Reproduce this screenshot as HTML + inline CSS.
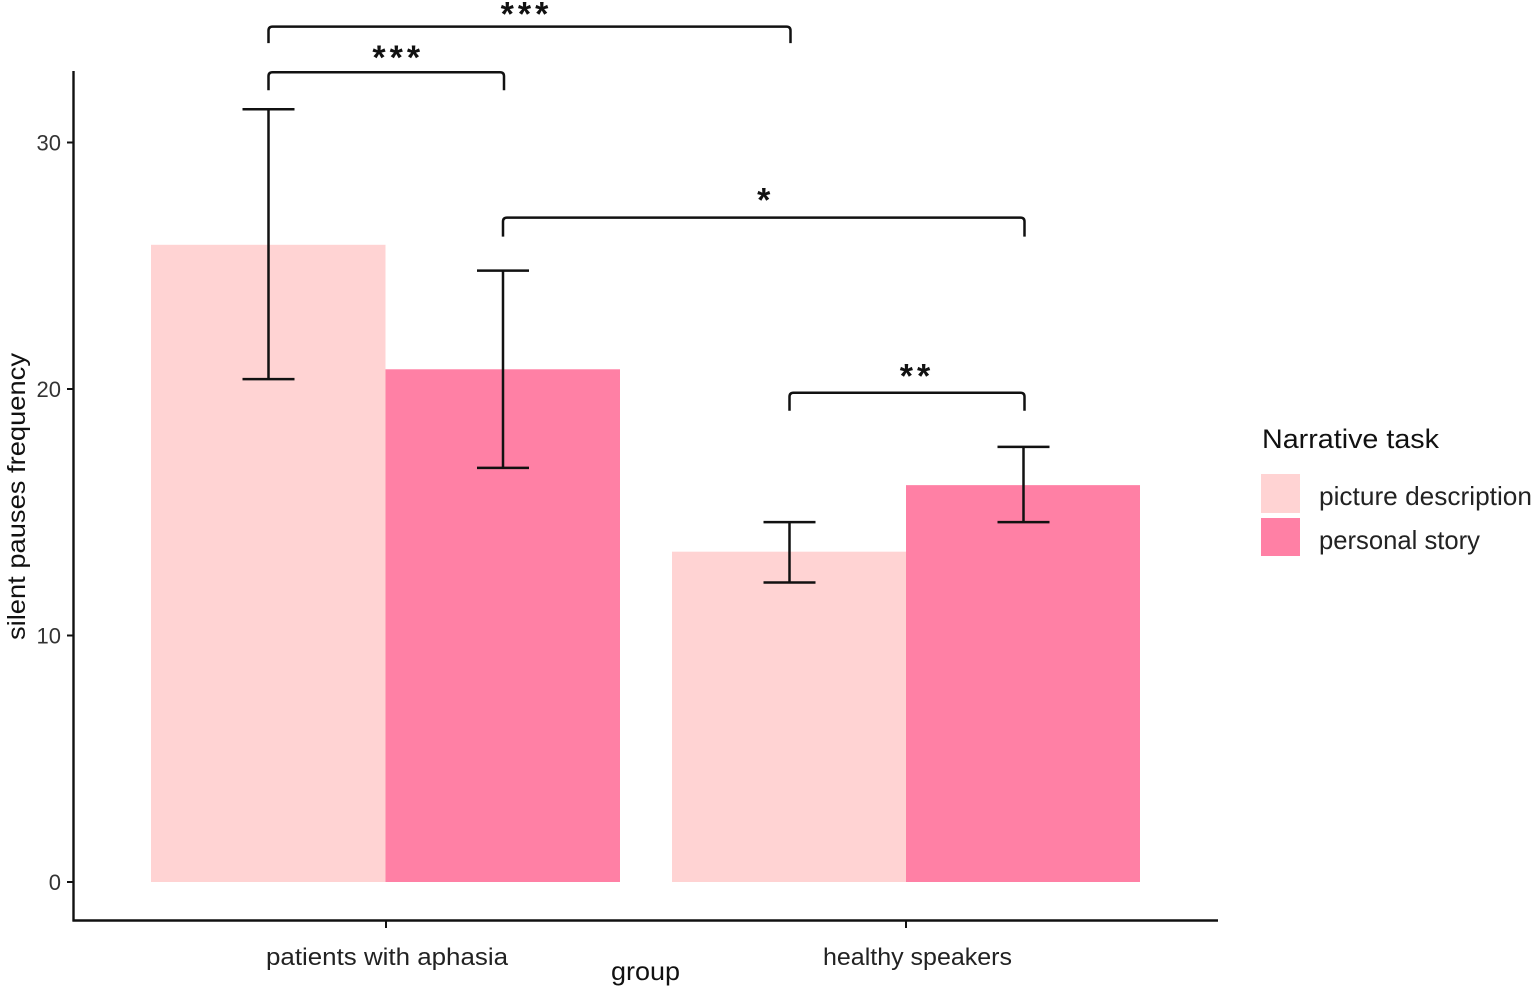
<!DOCTYPE html>
<html lang="en">
<head>
<meta charset="utf-8">
<title>Silent pauses frequency</title>
<style>
html,body{margin:0;padding:0;background:#fff;width:1535px;height:989px;overflow:hidden}
svg{display:block;font-family:"Liberation Sans",sans-serif}
</style>
</head>
<body>
<svg id="chart" width="1535" height="989" viewBox="0 0 1535 989" xmlns="http://www.w3.org/2000/svg"></svg>
<script>
const groups = ['patients with aphasia', 'healthy speakers'];
const tasks = ['picture description', 'personal story'];
const means = [[25.85, 20.8], [13.4, 16.1]];
const errLow = [[20.4, 16.8], [12.15, 14.6]];
const errHigh = [[31.35, 24.8], [14.6, 17.65]];
const yTicks = [0, 10, 20, 30];
const bracketFrom = [[0, 0], [0, 0], [0, 1], [1, 0]];
const bracketTo = [[1, 0], [0, 1], [1, 1], [1, 1]];
const bracketLevel = [34.7, 32.85, 26.95, 19.85];
const bracketStars = ['***', '***', '*', '**'];

const colors = ['#ffd3d3', '#ff80a5'];
const ink = '#111';
const starOffsetX = [-5, 10, 0, 8];
const starOffsetY = [-1, -3, -6, -5];
const bracketLegs = [16.5, 18, 19, 18];
const svg = document.getElementById('chart');
const NS = 'http://www.w3.org/2000/svg';
function y(v) { return 882 - v * 24.65; }
function xBar(g, t) { return (g === 0 ? 151 : 672) + t * (g === 0 ? 234.5 : 234); }
function xMid(g, t) { return xBar(g, t) + 117; }
function add(tag, attrs, text) {
  const el = document.createElementNS(NS, tag);
  for (const k in attrs) el.setAttribute(k, attrs[k]);
  if (text !== undefined) el.textContent = text;
  svg.appendChild(el);
  return el;
}

means.forEach(function (row, g) {
  row.forEach(function (v, t) {
    const bar = add('rect', { x: xBar(g, t), y: y(v), width: g === 0 ? 234.5 : 234, height: y(0) - y(v), fill: colors[t] });
    
    
  });
});

means.forEach(function (row, g) {
  row.forEach(function (v, t) {
    const cx = xMid(g, t) + 0.5;
    const hi = y(errHigh[g][t]);
    const lo = y(errLow[g][t]);
    const err = add('path', {
      d: 'M' + (cx - 26) + ' ' + hi + 'H' + (cx + 26) + 'M' + cx + ' ' + hi + 'V' + lo + 'M' + (cx - 26) + ' ' + lo + 'H' + (cx + 26),
      fill: 'none', stroke: ink, 'stroke-width': 2.5
    });
    
    
  });
});

bracketLevel.forEach(function (lv, i) {
  const x1 = xMid(bracketFrom[i][0], bracketFrom[i][1]) + 0.5;
  const x2 = xMid(bracketTo[i][0], bracketTo[i][1]) + 1.5;
  const by = y(lv);
  const leg = bracketLegs[i];
  const br = add('path', {
    d: 'M' + x1 + ' ' + (by + leg) + 'V' + (by + 4) + 'Q' + x1 + ' ' + by + ' ' + (x1 + 4) + ' ' + by + 'H' + (x2 - 4) + 'Q' + x2 + ' ' + by + ' ' + x2 + ' ' + (by + 4) + 'V' + (by + leg),
    fill: 'none', stroke: ink, 'stroke-width': 2.5
  });
  
  
  const label = add('text', {
    x: (x1 + x2) / 2 + starOffsetX[i] + 2, y: by + starOffsetY[i],
    'text-anchor': 'middle', 'font-size': 34, 'letter-spacing': 4, fill: ink, 'font-weight': 700
  }, bracketStars[i]);
  
  
});

const yAxis = add('path', { d: 'M73.5 71V921.5', stroke: ink, 'stroke-width': 2.4, fill: 'none' });


const xAxis = add('path', { d: 'M72.5 920.5H1218', stroke: ink, 'stroke-width': 2.4, fill: 'none' });



yTicks.forEach(function (v) {
  const tick = add('path', { d: 'M67 ' + y(v) + 'H73', stroke: ink, 'stroke-width': 2 });
  
  
  const lab = add('text', { x: 61, y: y(v) + 8, 'text-anchor': 'end', 'font-size': 22, fill: '#333' }, String(v));
  
  
});

groups.forEach(function (name, g) {
  const tx = g === 0 ? 386 : 906;
  const tick = add('path', { d: 'M' + tx + ' 921V928', stroke: ink, 'stroke-width': 2 });
  
  
  const lab = add('text', {
    x: g === 0 ? 266 : 823, y: 965, 'font-size': 24, fill: '#222',
    textLength: g === 0 ? 242 : 189, lengthAdjust: 'spacingAndGlyphs'
  }, name);
  
  
});

const xTitle = add('text', { x: 611, y: 980, 'font-size': 26, fill: '#111', textLength: 69, lengthAdjust: 'spacingAndGlyphs' }, 'group');



const yTitle = add('text', {
  transform: 'translate(25 640) rotate(-90)', 'font-size': 25, fill: '#111',
  textLength: 287, lengthAdjust: 'spacingAndGlyphs'
}, 'silent pauses frequency');



const legTitle = add('text', { x: 1262, y: 448, 'font-size': 27, fill: '#111', textLength: 177, lengthAdjust: 'spacingAndGlyphs' }, 'Narrative task');



tasks.forEach(function (name, t) {
  const sw = add('rect', { x: 1261, y: t === 0 ? 474 : 518, width: 39, height: t === 0 ? 39 : 38, fill: colors[t] });
  
  
  const lab = add('text', {
    x: 1319, y: t === 0 ? 505 : 549, 'font-size': 26, fill: '#222',
    textLength: t === 0 ? 213 : 161, lengthAdjust: 'spacingAndGlyphs'
  }, name);
  
  
});
</script>
</body>
</html>
